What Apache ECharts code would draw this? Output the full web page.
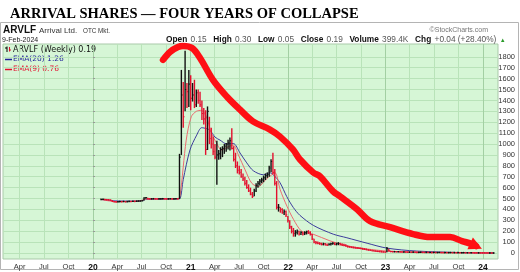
<!DOCTYPE html>
<html><head><meta charset="utf-8">
<script src="https://cdn.jsdelivr.net/npm/echarts@6/dist/echarts.min.js"></script>
<style>html,body{margin:0;padding:0;background:#fff}#c{width:520px;height:272px}</style>
</head><body><div id="c"></div>
<script>
// ---- data (weekly bars, ARVLF, price-adjusted) ----
const firstWeek = '2020-01-31';
const closes = [
491,493,490,489,488,485,472,470,468,470,472,471,473,470,472,474,473,475,474,476,
477,478,480,505,508,497,496,497,498,497,496,497,497,498,497,496,497,498,497,497,
498,497,880,1450,1250,1500,1480,1550,1420,1450,1360,1470,1400,1360,1280,1230,950,1300,1050,1000,
930,880,900,910,950,960,980,1000,1010,1030,960,860,800,760,740,700,680,640,600,570,
540,520,570,620,640,660,670,690,710,720,780,840,740,640,420,420,400,370,380,350,
300,240,200,180,190,200,175,190,175,185,195,190,170,130,100,95,90,85,80,85,
75,72,80,85,90,80,85,88,78,72,70,64,58,55,52,50,46,45,42,40,
35,33,30,26,24,20,18,16,14,12,10,9,8,40,20,14,12,
12,11,12,10,9,10,9,8,8,7,8,7,6,6,7,6,5,6,5,5,
4,5,4,4,5,4,3,4,3,3,4,3,3,2,3,2,2,3,2,2,
1.5,2,1.5,1.2,1,1.2,0.8,0.6,0.5,0.4,0.3,0.3,0.15,0.19];
const highs = [
498,499,497,495,494,492,486,477,475,476,478,477,479,477,478,480,479,481,480,482,
483,484,486,512,515,508,502,502,503,502,501,502,502,503,502,501,502,503,502,502,
503,505,910,1680,1570,1855,1560,1680,1630,1560,1590,1500,1500,1480,1400,1330,1310,1345,1250,1150,
1070,1000,1030,945,970,980,1000,1010,1040,1060,1145,980,920,840,800,770,730,700,670,630,
600,560,590,640,660,680,690,710,730,740,800,860,920,770,660,450,420,410,400,390,
340,300,250,230,210,215,205,200,195,200,205,210,200,175,130,110,105,100,95,95,
92,88,90,95,100,98,95,100,95,90,85,80,70,65,62,60,58,55,52,50,
48,45,42,38,34,30,28,25,22,20,18,16,14,55,40,18,16,
16,15,15,14,13,13,12,11,11,10,11,10,9,9,10,9,8,9,8,8,
7,8,7,7,8,7,6,7,6,6,7,6,6,5,6,5,5,6,5,5,
4,4,4,3,3,3,2.5,2,2,1.5,1.2,1,0.8,0.3];
const lows = [
486,487,484,483,482,479,468,464,463,464,466,465,467,465,466,468,467,469,468,470,
471,472,474,482,498,492,491,492,493,492,491,492,492,493,492,491,492,493,492,492,
493,490,495,900,1150,1300,1330,1340,1310,1390,1330,1340,1370,1340,1220,1180,900,945,1000,960,
900,860,627,855,860,880,910,930,950,940,950,840,780,730,720,690,660,620,590,560,
530,505,520,560,600,620,640,650,670,690,700,740,720,620,400,380,370,360,350,330,
280,220,180,150,150,170,160,165,160,165,170,175,160,120,90,80,80,75,70,70,
68,65,68,70,75,72,70,72,70,65,62,58,50,48,45,42,40,38,36,34,
30,28,25,22,20,16,14,12,10,8,7,6,5,8,15,10,9,
9,8,9,7,6,7,6,5,5,4,5,4,3,3,4,3,2,3,2,2,
1,2,1,1,2,1,0.5,1,0.5,0.5,1,0.5,0.5,0.2,0.5,0.2,0.2,0.5,0.2,0.2,
0.1,0.2,0.1,0.1,0.1,0.1,0.1,0.1,0.1,0.1,0.1,0.1,0.05,0.05];

const ema20Weeks = [0,8,20,25,41,42.3,44,47.6,51.2,53.9,56.6,58.3,61,63.7,67.3,70.8,74.4,78,81.5,86.9,90.4,92.2,95.8,99.4,102.9,106.5,113.6,124.3,131.6,142.4,153,169,196,210];
const ema20Values = [491,478,476,494,497,500,673,945,1082,1150,1140,1127,1064,1036,1000,1005,918,827,755,718,736,718,645,518,418,345,254,173,140,90,45,18,3,1.26];
const ema9Weeks = [0,8,20,25,41,42.3,45.6,48.3,51,53.7,56.4,59.1,61.8,64.5,68.1,70.8,73.5,77.1,80.7,84.3,87.9,91.4,93.2,95.9,99.5,103,107.4,113.5,122.5,131.6,142,153,165,190,210];
const ema9Values = [491,472,476,497,497,527,1036,1250,1300,1309,1250,1100,1010,945,975,990,900,764,640,610,670,718,736,580,430,309,200,173,112,67,38,18,10,3,0.76];

// hand-drawn annotation arrow (week index, price)
const arrowWeeks = [33.2,36.9,41.2,43.9,48.7,53.0,59.9,67.4,74.4,81.3,90.4,95.8,102.7,106.5,113.5,117.2,124.2,127.9,137,144,154.7,167,176.1,186.8,193.2,198.6,200.7];
const arrowPrices = [1772,1845,1890,1900,1881,1790,1589,1434,1315,1208,1132,1068,950,858,740,703,566,520,402,292,237,174,146,146,110,82,64];

const xTickDates = ['2019-04-01','2019-07-01','2019-10-01','2020-01-01','2020-04-01','2020-07-01','2020-10-01','2021-01-01','2021-04-01','2021-07-01','2021-10-01','2022-01-01','2022-04-01','2022-07-01','2022-10-01','2023-01-01','2023-04-01','2023-07-01','2023-10-01','2024-01-01'];
const xTickLabels = ['Apr','Jul','Oct','20','Apr','Jul','Oct','21','Apr','Jul','Oct','22','Apr','Jul','Oct','23','Apr','Jul','Oct','24'];
const yearTickDates = ['2020-01-01','2021-01-01','2022-01-01','2023-01-01','2024-01-01'];
const yTicks = [0,100,200,300,400,500,600,700,800,900,1000,1100,1200,1300,1400,1500,1600,1700,1800];

// ---- helpers ----
const DAY = 86400000;
const origin = Date.UTC(2020,0,1);
function dayOf(s){const p=s.split('-').map(Number);return (Date.UTC(p[0],p[1]-1,p[2])-origin)/DAY;}
const week0 = dayOf(firstWeek);
function weekDay(k){return week0 + 7*k;}

const barData = closes.map((c,i)=>[weekDay(i), highs[i], lows[i], c, (i===0 || c>=closes[i-1]) ? 1 : 0]);
const ema20Data = ema20Weeks.map((k,i)=>[weekDay(k), ema20Values[i]]);
const ema9Data = ema9Weeks.map((k,i)=>[weekDay(k), ema9Values[i]]);
const arrowData = arrowWeeks.map((k,i)=>{
  const last = i===arrowWeeks.length-1;
  return last ? {value:[weekDay(k),arrowPrices[i]], symbol:'triangle', symbolSize:[13,13], symbolRotate:-115}
              : {value:[weekDay(k),arrowPrices[i]], symbol:'none'};
});
const xTickValues = xTickDates.map(dayOf);
const labelMap = {}; xTickValues.forEach((v,i)=>labelMap[Math.round(v)] = xTickLabels[i]);
const yearValues = yearTickDates.map(dayOf);

// layout
const PX_PER_DAY = 390/1461;
const X0 = 93; // pixel of 2020-01-01
const gridL = 3, gridR = 498, gridT = 44, gridB = 260;
const xMin = (gridL - X0)/PX_PER_DAY, xMax = (gridR - X0)/PX_PER_DAY;
const yPxPer100 = 10.95, y0px = 254;
const yMax = (y0px - gridT)/yPxPer100*100, yMin = (y0px - gridB)/yPxPer100*100;

const RED = '#e3102e';
function renderOHLC(params, api){
  const d = api.value(0);
  const top = api.coord([d, api.value(1)]);
  const bot = api.coord([d, api.value(2)]);
  const cl = api.coord([d, api.value(3)]);
  const col = api.value(4) ? '#111111' : RED;
  let y1 = top[1], y2 = bot[1];
  if (y2 - y1 < 1.6){ const m=(y1+y2)/2; y1=m-0.8; y2=m+0.8; }
  return {type:'group', children:[
    {type:'line', shape:{x1:top[0],y1:y1,x2:top[0],y2:y2}, style:{stroke:col,lineWidth:1.4}},
    {type:'line', shape:{x1:cl[0],y1:cl[1],x2:cl[0]+1.3,y2:cl[1]}, style:{stroke:col,lineWidth:1}}
  ]};
}

const chart = echarts.init(document.getElementById('c'), null, {renderer:'canvas'});
const SANS = '"Liberation Sans", Arial, sans-serif';
chart.setOption({
  animation:false,
  backgroundColor:'#ffffff',
  grid:{left:gridL, top:gridT, width:gridR-gridL, height:gridB-gridT, show:true, backgroundColor:'#d6f6d6', borderColor:'#a9c9a9', borderWidth:1},
  xAxis:[{
    type:'value', min:xMin, max:xMax,
    axisLine:{show:false},
    axisTick:{show:false, customValues:xTickValues},
    splitLine:{show:true, lineStyle:{color:'#b9e3b9', width:1}},
    axisLabel:{customValues:xTickValues, margin:4, fontSize:7.5, color:'#333', fontFamily:SANS,
      formatter:v=>{const t=labelMap[Math.round(v)]||''; return /^\d\d$/.test(t)?'{b|'+t+'}':t;},
      rich:{b:{fontWeight:'bold', fontSize:8.5, color:'#111', fontFamily:SANS}}}
  },{
    type:'value', min:xMin, max:xMax, position:'bottom',
    axisLine:{show:false}, axisLabel:{show:false},
    axisTick:{show:false, customValues:yearValues},
    splitLine:{show:true, lineStyle:{color:'#a3cfa3', width:1}}
  }],
  yAxis:{
    type:'value', position:'right', min:yMin, max:yMax,
    axisLine:{show:false},
    axisTick:{show:true, customValues:yTicks, length:2, lineStyle:{color:'#999'}},
    splitLine:{show:true, lineStyle:{color:'#b9e3b9', width:1}},
    axisLabel:{customValues:yTicks, align:'right', margin:17, fontSize:7.5, color:'#333', fontFamily:SANS,
      formatter:v=>String(Math.round(v))}
  },
  series:[
    {type:'line', name:'EMA(20)', data:ema20Data, xAxisIndex:0, symbol:'none', smooth:0.3, lineStyle:{color:'#3c3c9c', width:1}, z:3},
    {type:'line', name:'EMA(9)', data:ema9Data, xAxisIndex:0, symbol:'none', smooth:0.3, lineStyle:{color:'#ec6b70', width:1}, z:3},
    {type:'custom', name:'ARVLF', data:barData, xAxisIndex:0, renderItem:renderOHLC, encode:{x:0, y:[1,2,3]}, clip:true, z:4},
    {type:'line', name:'arrow', data:arrowData, xAxisIndex:0, showSymbol:true, smooth:0.35,
      lineStyle:{color:'#ff0f14', width:6.5, cap:'round', join:'round'}, itemStyle:{color:'#ff0f14'}, z:10, clip:false}
  ],
  graphic:[
    {type:'rect', shape:{x:0.5, y:22.5, width:518, height:247}, style:{fill:'none', stroke:'#b4b4b4', lineWidth:1}, z:-1},
    {type:'text', x:10, y:14, style:{text:'ARRIVAL SHARES — FOUR YEARS OF COLLAPSE', font:'bold 14.5px "Liberation Serif", "Times New Roman", serif', fill:'#000', verticalAlign:'middle'}},
    {type:'text', x:3, y:30, style:{text:'ARVLF', font:'bold 10px '+SANS, fill:'#111', verticalAlign:'middle'}},
    {type:'text', x:39, y:30.5, style:{text:'Arrival Ltd.', font:'8px '+SANS, fill:'#333', verticalAlign:'middle'}},
    {type:'text', x:83, y:31, style:{text:'OTC Mkt.', font:'6.3px '+SANS, fill:'#333', verticalAlign:'middle'}},
    {type:'text', x:2, y:40, style:{text:'9-Feb-2024', font:'7px '+SANS, fill:'#222', verticalAlign:'middle'}},
    {type:'text', x:488, y:30, style:{text:'©StockCharts.com', font:'7px '+SANS, fill:'#777', align:'right', verticalAlign:'middle'}},
    {type:'text', x:166, y:40, style:{
      text:'{b|Open} {v|0.15}  {b|High} {v|0.30}  {b|Low} {v|0.05}  {b|Close} {v|0.19}  {b|Volume} {v|399.4K}  {b|Chg} {v|+0.04 (+28.40%)} {g|▲}',
      verticalAlign:'middle',
      rich:{b:{font:'bold 8.3px '+SANS, fill:'#111'}, v:{font:'8.3px '+SANS, fill:'#555'}, g:{font:'6px '+SANS, fill:'#2a9a2a'}}}},
    {type:'line', shape:{x1:7,y1:46.5,x2:7,y2:52}, style:{stroke:'#000',lineWidth:1}},
    {type:'line', shape:{x1:5,y1:48,x2:7,y2:48}, style:{stroke:'#000',lineWidth:1}},
    {type:'line', shape:{x1:9.5,y1:47,x2:9.5,y2:51.5}, style:{stroke:RED,lineWidth:1}},
    {type:'line', shape:{x1:9.5,y1:50,x2:11,y2:50}, style:{stroke:RED,lineWidth:1}},
    {type:'text', x:13, y:49.5, style:{text:'ARVLF (Weekly) 0.19', font:'8px "DejaVu Sans", sans-serif', fill:'#111', verticalAlign:'middle'}},
    {type:'line', shape:{x1:5,y1:59.5,x2:12,y2:59.5}, style:{stroke:'#22229a',lineWidth:1.5}},
    {type:'text', x:13, y:59.5, style:{text:'EMA(20) 1.26', font:'7.5px "DejaVu Sans", sans-serif', fill:'#22229a', verticalAlign:'middle'}},
    {type:'line', shape:{x1:5,y1:69.5,x2:12,y2:69.5}, style:{stroke:RED,lineWidth:1.5}},
    {type:'text', x:13, y:69.5, style:{text:'EMA(9) 0.76', font:'7.5px "DejaVu Sans", sans-serif', fill:RED, verticalAlign:'middle'}}
  ]
});
</script></body></html>
